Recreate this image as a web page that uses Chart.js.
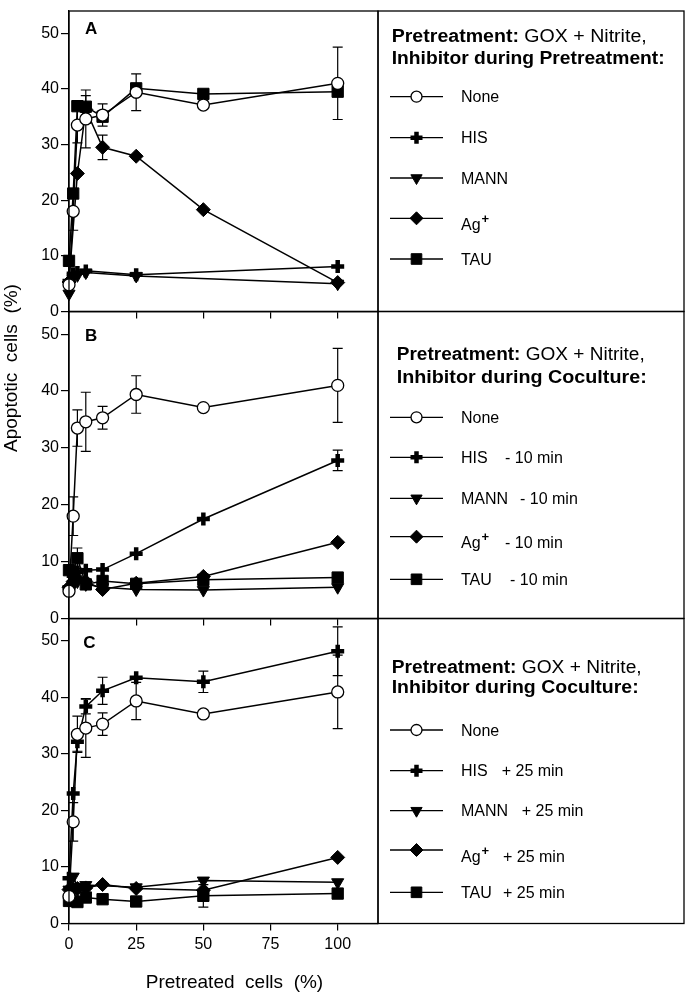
<!DOCTYPE html>
<html>
<head>
<meta charset="utf-8">
<script src="https://cdn.jsdelivr.net/npm/chart.js@4.4.1/dist/chart.umd.min.js"></script>
<style>
  body { margin: 0; background: #fff; }
  #wrap { position: relative; width: 688px; height: 995px; }
  canvas { position: absolute; left: 0; top: 0; }
</style>
</head>
<body>
<div id="wrap">
  <canvas id="chartA" width="688" height="995"></canvas>
  <canvas id="chartB" width="688" height="995"></canvas>
  <canvas id="chartC" width="688" height="995"></canvas>
</div>
<script>
const FONT = '"Liberation Sans", Arial, Helvetica, sans-serif';
Chart.defaults.font.family = FONT;
Chart.defaults.color = '#000';

const pretreated = [0, 1.56, 3.125, 6.25, 12.5, 25, 50, 100];
const xTicks = [0, 25, 50, 75, 100];
const yTicks = [0, 10, 20, 30, 40, 50];

// control, no inhibitor (same curve in every panel)
const noneVals = [4.8, 18.0, 33.5, 34.6, 35.3, 39.4, 37.1, 41.0];
const noneErr  = [0, 3.4, 3.2, 5.2, 2.0, 3.3, 0, 6.5];

// A: inhibitor during pretreatment
const hisA   = [5.5, 6.8, 7.0, 7.3, null, 6.6, null, 8.1];
const mannA  = [3.2, 6.2, 6.5, 7.0, null, 6.4, null, 5.0];
const agA    = [5.3, null, 24.8, 36.3, 29.5, 27.9, 18.3, 5.2];
const agErrA = [0, 0, 0, 2.5, 2.2, 0, 0, 0];
const tauA   = [9.1, 21.2, 36.9, 36.8, 35.0, 40.1, 39.1, 39.5];

// B: inhibitor during coculture, -10 min
const hisB    = [5.5, 7.5, 8.2, 8.5, 8.6, 11.4, 17.5, 27.8];
const hisErrB = [0, 0, 0, 0, 0, 0, 0, 1.8];
const mannB   = [5.0, 6.0, 6.5, 6.0, 5.5, 5.1, 5.0, 5.5];
const agB     = [5.5, 6.5, 7.0, 6.5, 5.1, 6.2, 7.4, 13.4];
const tauB    = [8.5, 8.2, 10.6, 6.0, 6.6, 6.1, 6.8, 7.2];
const tauErrB = [0, 0, 1.8, 0, 0, 0, 0, 0];

// C: inhibitor during coculture, +25 min
const hisC    = [8.0, 23.0, 32.2, 38.4, 41.2, 43.5, 42.8, 48.2];
const hisErrC = [0, 0, 1.7, 1.3, 2.4, 0, 1.9, 4.3];
const mannC   = [6.0, 8.3, 6.5, 6.8, null, 6.4, 7.6, 7.3];
const agC     = [6.0, 6.0, 6.2, 6.3, 6.9, 6.2, 5.9, 11.7];
const tauC    = [4.0, 4.0, 3.8, 4.6, 4.3, 3.9, 4.9, 5.3];
const tauErrC = [0, 0, 0, 0, 0, 0, 2.0, 0];

const legendNames = ['None', 'HIS', 'MANN', 'Ag', 'TAU'];
const kinds = ['none', 'his', 'mann', 'ag', 'tau'];

const styles = {
  none: { pointStyle: 'circle', pointRadius: 6, pointBackgroundColor: '#fff', pointBorderWidth: 1.3 },
  his:  { pointStyle: 'cross', pointRadius: 6.5, pointBackgroundColor: '#000', pointBorderWidth: 4.5 },
  mann: { pointStyle: 'triangle', pointRotation: 180, pointRadius: 7, pointBackgroundColor: '#000', pointBorderWidth: 1 },
  ag:   { pointStyle: 'rectRot', pointRadius: 7, pointBackgroundColor: '#000', pointBorderWidth: 1 },
  tau:  { pointStyle: 'rect', pointRadius: 8, pointBackgroundColor: '#000', pointBorderWidth: 1 }
};

function series(kind, vals, err) {
  return Object.assign({
    data: vals.map((v, i) => ({ x: pretreated[i], y: v })),
    err: err,
    borderColor: '#000', borderWidth: 1.5, pointBorderColor: '#000',
    spanGaps: true, tension: 0, clip: false
  }, styles[kind]);
}

function fitText(ctx, parts, x, y, width) {
  let total = 0;
  parts.forEach(([t, f]) => { ctx.font = f; total += ctx.measureText(t).width; });
  const sx = width ? width / total : 1;
  ctx.save();
  ctx.translate(x, y);
  ctx.scale(sx, 1);
  let cx = 0;
  parts.forEach(([t, f]) => { ctx.font = f; ctx.fillText(t, cx, 0); cx += ctx.measureText(t).width; });
  ctx.restore();
}

function drawMarker(ctx, kind, x, y) {
  const st = styles[kind];
  ctx.save();
  ctx.fillStyle = st.pointBackgroundColor;
  ctx.strokeStyle = '#000';
  ctx.lineWidth = st.pointBorderWidth;
  Chart.helpers.drawPoint(ctx, {
    pointStyle: st.pointStyle, radius: st.pointRadius - 0.5,
    rotation: st.pointRotation || 0, borderWidth: st.pointBorderWidth
  }, x, y);
  ctx.restore();
}

function panelPlugin(p) {
  return {
    id: 'panel' + p.letter,
    beforeDatasetsDraw(chart) {
      const ctx = chart.ctx, xs = chart.scales.x, ys = chart.scales.y;
      ctx.save();
      ctx.strokeStyle = '#000';
      ctx.lineWidth = 1.2;
      chart.data.datasets.forEach(ds => {
        if (!ds.err) return;
        ds.data.forEach((pt, i) => {
          const e = ds.err[i];
          if (!e || pt.y == null) return;
          const px = xs.getPixelForValue(pt.x);
          const t = ys.getPixelForValue(pt.y + e), b = ys.getPixelForValue(pt.y - e);
          ctx.beginPath();
          ctx.moveTo(px, t); ctx.lineTo(px, b);
          ctx.moveTo(px - 5, t); ctx.lineTo(px + 5, t);
          ctx.moveTo(px - 5, b); ctx.lineTo(px + 5, b);
          ctx.stroke();
        });
      });
      ctx.restore();
    },
    afterDraw(chart) {
      const ctx = chart.ctx, a = chart.chartArea;
      ctx.save();
      ctx.strokeStyle = '#000';
      ctx.lineWidth = 1.3;
      ctx.strokeRect(a.left, a.top, a.right - a.left, a.bottom - a.top);
      ctx.strokeRect(a.right, a.top, 684 - a.right, a.bottom - a.top);

      ctx.fillStyle = '#000';
      ctx.textBaseline = 'alphabetic';
      ctx.textAlign = 'left';
      ctx.font = 'bold 17px ' + FONT;
      ctx.fillText(p.letter, p.letterX, p.letterY);

      const bold = 'bold 18px ' + FONT, reg = '18px ' + FONT;
      fitText(ctx, [['Pretreatment:', bold], [' GOX + Nitrite,', reg]], p.titleX, p.titleY[0], p.titleW[0]);
      fitText(ctx, [[p.title2, bold]], p.titleX, p.titleY[1], p.titleW[1]);

      legendNames.forEach((name, i) => {
        const y = p.rows[i];
        ctx.lineWidth = 1.3;
        ctx.beginPath();
        ctx.moveTo(390, y); ctx.lineTo(443, y);
        ctx.stroke();
        drawMarker(ctx, kinds[i], 416.5, y);
        ctx.fillStyle = '#000';
        ctx.font = '16px ' + FONT;
        const base = kinds[i] === 'ag' ? y + 11.5 : y + 5.5;
        ctx.fillText(name, 461, base);
        if (kinds[i] === 'ag') {
          const w = ctx.measureText(name).width;
          ctx.font = 'bold 13px ' + FONT;
          ctx.fillText('+', 461 + w + 1, base - 7);
          ctx.font = '16px ' + FONT;
        }
        if (p.suffix && p.suffixX[i]) ctx.fillText(p.suffix, p.suffixX[i], base);
      });

      if (p.axisTitles) {
        ctx.font = '19px ' + FONT;
        ctx.textAlign = 'center';
        ctx.fillText('Pretreated  cells  (%)', 234.5, 988);
        ctx.save();
        ctx.translate(16.7, 368);
        ctx.rotate(-Math.PI / 2);
        ctx.fillText('Apoptotic  cells  (%)', 0, 0);
        ctx.restore();
      }
      ctx.restore();
    }
  };
}

function panelOptions(p) {
  const noPad = s => { s.paddingTop = 0; s.paddingBottom = 0; s.paddingLeft = 0; s.paddingRight = 0; };
  return {
    responsive: false, animation: false, devicePixelRatio: 1,
    layout: { padding: { left: 69 - 40, right: 688 - 378, top: p.top, bottom: 995 - p.bottom - 30 } },
    plugins: { legend: { display: false }, tooltip: { enabled: false } },
    scales: {
      x: {
        type: 'linear', min: 0, max: 115,
        afterFit: s => { s.height = 30; noPad(s); },
        afterBuildTicks: s => { s.ticks = xTicks.map(v => ({ value: v })); },
        grid: { drawOnChartArea: false, tickLength: 7, color: '#000', lineWidth: 1.2 },
        border: { color: '#000', width: 1.3 },
        ticks: { color: p.showX ? '#000' : 'rgba(0,0,0,0)', padding: 4, maxRotation: 0, font: { size: 16 } }
      },
      y: {
        type: 'linear', min: 0, max: 54,
        afterFit: s => { s.width = 40; noPad(s); },
        afterBuildTicks: s => { s.ticks = yTicks.map(v => ({ value: v })); },
        grid: { drawOnChartArea: false, tickLength: 8, color: '#000', lineWidth: 1.2 },
        border: { color: '#000', width: 1.3 },
        ticks: { color: '#000', padding: 2, font: { size: 16 } }
      }
    }
  };
}

const panels = [
  {
    id: 'chartA', letter: 'A', letterX: 85, letterY: 33.5, top: 4.5, bottom: 311.5, showX: false,
    sets: [series('none', noneVals, noneErr), series('his', hisA), series('mann', mannA),
           series('ag', agA, agErrA), series('tau', tauA)],
    title2: 'Inhibitor during Pretreatment:', titleX: 391.7, titleY: [42, 64], titleW: [255, 273],
    rows: [96.7, 137.7, 178, 218.3, 259], suffix: null
  },
  {
    id: 'chartB', letter: 'B', letterX: 85, letterY: 340.7, top: 311.5, bottom: 618.5, showX: false,
    sets: [series('none', noneVals, noneErr), series('his', hisB, hisErrB), series('mann', mannB),
           series('ag', agB), series('tau', tauB, tauErrB)],
    title2: 'Inhibitor during Coculture:', titleX: 396.7, titleY: [360, 382.7], titleW: [248, 250],
    rows: [417.3, 457.3, 498.3, 536.7, 579.3], suffix: '- 10 min', suffixX: [0, 505, 520, 505, 510]
  },
  {
    id: 'chartC', letter: 'C', letterX: 83.3, letterY: 648.3, top: 618.5, bottom: 923.5, showX: true,
    sets: [series('none', noneVals, noneErr), series('his', hisC, hisErrC), series('mann', mannC),
           series('ag', agC), series('tau', tauC, tauErrC)],
    title2: 'Inhibitor during Coculture:', titleX: 391.7, titleY: [672.7, 693.3], titleW: [250, 247],
    rows: [730, 770.7, 810.7, 850, 892.3], suffix: '+ 25 min', suffixX: [0, 501.7, 521.7, 503, 503],
    axisTitles: true
  }
];

panels.forEach(p => {
  new Chart(document.getElementById(p.id), {
    type: 'line',
    data: { datasets: p.sets },
    options: panelOptions(p),
    plugins: [panelPlugin(p)]
  });
});
</script>
</body>
</html>
